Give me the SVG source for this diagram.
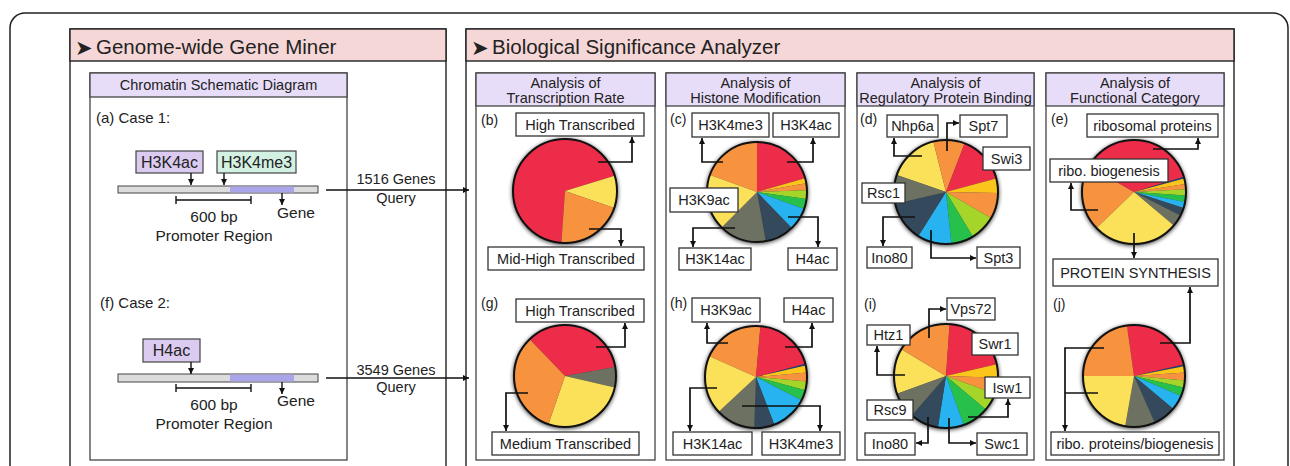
<svg xmlns="http://www.w3.org/2000/svg" width="1290" height="466" viewBox="0 0 1290 466">
<defs>
<marker id="ah" viewBox="0 0 8 8" refX="8" refY="4" markerWidth="6" markerHeight="6" orient="auto" markerUnits="userSpaceOnUse"><path d="M0,0 L8,4 L0,8 z" fill="#111"/></marker>
<filter id="sh" x="-20%" y="-20%" width="140%" height="140%"><feGaussianBlur stdDeviation="2.2"/></filter>
<style>
text{font-family:"Liberation Sans",Arial,sans-serif;fill:#222}
.t20{font-size:20.5px}
.t14{font-size:14.5px;text-anchor:middle}
.lab{font-size:14px}
.bx{font-size:14.5px;text-anchor:middle}
.box{fill:#fff;stroke:#333;stroke-width:1.3}
.pnl{fill:#fff;stroke:#222;stroke-width:1.4}
.sub{fill:#fff;stroke:#444;stroke-width:1.3}
.ph{fill:#f6d7d7;stroke:#222;stroke-width:1.4}
.sh{fill:#e8ddf9;stroke:#444;stroke-width:1.3}
.ld{fill:none;stroke:#111;stroke-width:1.7}
.arr{fill:none;stroke:#111;stroke-width:1.4}
.shadow{fill:#000;opacity:0.75;filter:url(#sh)}
.rim{fill:none;stroke:#111;stroke-width:2}
.r{fill:#ec2c48}.o{fill:#f7923f}.y{fill:#fbe05a}.g{fill:#6c7161}.d{fill:#34495c}.b{fill:#27b3ef}.gr{fill:#27c04a}.lg{fill:#a6d52a}.yo{fill:#fbc61b}.n{fill:#283e78}
.ico{font-family:"DejaVu Sans",sans-serif;font-size:21px}
</style>
</defs>
<rect width="1290" height="466" fill="#fff"/>
<rect x="10" y="13" width="1278" height="480" rx="15" fill="none" stroke="#222" stroke-width="1.5"/>

<g id="gene-miner">
<rect class="pnl" x="70" y="29" width="376" height="460"/>
<rect class="ph" x="70" y="29" width="376" height="32"/>
<text class="ico" x="75" y="55">➤</text>
<text class="t20" x="96" y="54">Genome-wide Gene Miner</text>
</g>

<g id="chromatin">
<rect class="sub" x="90" y="73" width="257" height="387"/>
<rect class="sh" x="90" y="73" width="257" height="24"/>
<text class="t14" x="218.5" y="90">Chromatin Schematic Diagram</text>
<text x="96" y="123" style="font-size:15px">(a) Case 1:</text>
<rect x="136" y="151" width="67" height="22" fill="#dccbf0" stroke="#444" stroke-width="1.2"/>
<text x="169.5" y="168" style="font-size:16px;text-anchor:middle">H3K4ac</text>
<rect x="217" y="151" width="79" height="22" fill="#d3f1e3" stroke="#444" stroke-width="1.2"/>
<text x="256.5" y="168" style="font-size:16px;text-anchor:middle">H3K4me3</text>
<rect x="118" y="186" width="200" height="7" fill="#dcdcdc" stroke="#444" stroke-width="1"/>
<rect x="230" y="186.5" width="64" height="6" fill="#aaa4e8"/>
<path class="arr" d="M176,196 V204 M251,196 V204 M176,200 H251"/>
<text x="214" y="222" style="font-size:15.5px;text-anchor:middle">600 bp</text>
<text x="296" y="218" style="font-size:15.5px;text-anchor:middle">Gene</text>
<text x="214" y="241" style="font-size:15.5px;text-anchor:middle">Promoter Region</text>
<text x="100" y="308" style="font-size:15px">(f) Case 2:</text>
<rect x="143" y="339" width="57" height="23" fill="#dccbf0" stroke="#444" stroke-width="1.2"/>
<text x="171.5" y="356" style="font-size:16px;text-anchor:middle">H4ac</text>
<rect x="118" y="374" width="200" height="8" fill="#dcdcdc" stroke="#444" stroke-width="1"/>
<rect x="230" y="374.5" width="64" height="7" fill="#aaa4e8"/>
<path class="arr" d="M176,384 V392 M251,384 V392 M176,388 H251"/>
<text x="214" y="410" style="font-size:15.5px;text-anchor:middle">600 bp</text>
<text x="296" y="406" style="font-size:15.5px;text-anchor:middle">Gene</text>
<text x="214" y="429" style="font-size:15.5px;text-anchor:middle">Promoter Region</text>
<text x="396" y="184" style="font-size:14.5px;text-anchor:middle">1516 Genes</text>
<text x="396" y="203" style="font-size:14.5px;text-anchor:middle">Query</text>
<text x="396" y="375" style="font-size:14.5px;text-anchor:middle">3549 Genes</text>
<text x="396" y="392" style="font-size:14.5px;text-anchor:middle">Query</text>
</g>

<g id="analyzer">
<rect class="pnl" x="466" y="29" width="768" height="460"/>
<rect class="ph" x="466" y="29" width="768" height="32"/>
<text class="ico" x="471" y="55">➤</text>
<text class="t20" x="492" y="54">Biological Significance Analyzer</text>
</g>

<g id="panel-transcription">
<rect class="sub" x="476" y="73" width="179" height="387"/>
<rect class="sh" x="476" y="73" width="179" height="33"/>
<text class="t14" x="565.5" y="88">Analysis of</text>
<text class="t14" x="565.5" y="103">Transcription Rate</text>
</g>
<g id="panel-histone">
<rect class="sub" x="666" y="73" width="179" height="387"/>
<rect class="sh" x="666" y="73" width="179" height="33"/>
<text class="t14" x="755.5" y="88">Analysis of</text>
<text class="t14" x="755.5" y="103">Histone Modification</text>
</g>
<g id="panel-regulatory">
<rect class="sub" x="857" y="73" width="177" height="387"/>
<rect class="sh" x="857" y="73" width="177" height="33"/>
<text class="t14" x="945.5" y="88">Analysis of</text>
<text class="t14" x="945.5" y="103">Regulatory Protein Binding</text>
</g>
<g id="panel-functional">
<rect class="sub" x="1046" y="73" width="178" height="387"/>
<rect class="sh" x="1046" y="73" width="178" height="33"/>
<text class="t14" x="1135" y="88">Analysis of</text>
<text class="t14" x="1135" y="103">Functional Category</text>
</g>

<g id="pie-b">
<text class="lab" x="481" y="125">(b)</text>
<circle class="shadow" cx="565" cy="192" r="53"/>
<path class="r" d="M565,191 L561.4,242.9 A52,52 0 1 1 614.7,175.8 Z"/>
<path class="y" d="M565,191 L614.7,175.8 A52,52 0 0 1 614.2,207.9 Z"/>
<path class="o" d="M565,191 L614.2,207.9 A52,52 0 0 1 561.4,242.9 Z"/>
<circle class="rim" cx="565" cy="191" r="52"/>
</g>
<g id="pie-g">
<text class="lab" x="481" y="308">(g)</text>
<circle class="shadow" cx="565" cy="377" r="52"/>
<path class="r" d="M565,376 L529.6,339.3 A51,51 0 0 1 615.2,367.1 Z"/>
<path class="g" d="M565,376 L615.2,367.1 A51,51 0 0 1 614.7,387.5 Z"/>
<path class="y" d="M565,376 L614.7,387.5 A51,51 0 0 1 548.4,424.2 Z"/>
<path class="o" d="M565,376 L548.4,424.2 A51,51 0 0 1 529.6,339.3 Z"/>
<circle class="rim" cx="565" cy="376" r="51"/>
</g>
<g id="pie-c">
<text class="lab" x="670" y="124">(c)</text>
<circle class="shadow" cx="757" cy="193" r="51"/>
<path class="o" d="M757,192 L710,174.9 A50,50 0 0 1 757,142 Z"/>
<path class="r" d="M757,192 L757,142 A50,50 0 0 1 805.1,178.2 Z"/>
<path class="yo" d="M757,192 L805.1,178.2 A50,50 0 0 1 806.2,183.3 Z"/>
<path class="o" d="M757,192 L806.2,183.3 A50,50 0 0 1 807,190.3 Z"/>
<path class="lg" d="M757,192 L807,190.3 A50,50 0 0 1 806.5,199 Z"/>
<path class="gr" d="M757,192 L806.5,199 A50,50 0 0 1 804,209.1 Z"/>
<path class="b" d="M757,192 L804,209.1 A50,50 0 0 1 791.7,228 Z"/>
<path class="d" d="M757,192 L791.7,228 A50,50 0 0 1 765.7,241.2 Z"/>
<path class="g" d="M757,192 L765.7,241.2 A50,50 0 0 1 721.6,227.4 Z"/>
<path class="y" d="M757,192 L721.6,227.4 A50,50 0 0 1 710,174.9 Z"/>
<circle class="rim" cx="757" cy="192" r="50"/>
</g>
<g id="pie-h">
<text class="lab" x="670" y="308">(h)</text>
<circle class="shadow" cx="756" cy="378" r="52"/>
<path class="o" d="M756,377 L709.4,356.3 A51,51 0 0 1 760.4,326.2 Z"/>
<path class="r" d="M756,377 L760.4,326.2 A51,51 0 0 1 805.3,363.8 Z"/>
<path class="n" d="M756,377 L805.3,363.8 A51,51 0 0 1 805.7,365.5 Z"/>
<path class="yo" d="M756,377 L805.7,365.5 A51,51 0 0 1 806.8,372.6 Z"/>
<path class="o" d="M756,377 L806.8,372.6 A51,51 0 0 1 806.8,381.4 Z"/>
<path class="lg" d="M756,377 L806.8,381.4 A51,51 0 0 1 805.3,390.2 Z"/>
<path class="gr" d="M756,377 L805.3,390.2 A51,51 0 0 1 801.4,400.2 Z"/>
<path class="b" d="M756,377 L801.4,400.2 A51,51 0 0 1 774.3,424.6 Z"/>
<path class="d" d="M756,377 L774.3,424.6 A51,51 0 0 1 754.2,428 Z"/>
<path class="g" d="M756,377 L754.2,428 A51,51 0 0 1 718.7,411.8 Z"/>
<path class="y" d="M756,377 L718.7,411.8 A51,51 0 0 1 709.4,356.3 Z"/>
<circle class="rim" cx="756" cy="377" r="51"/>
</g>
<g id="pie-d">
<text class="lab" x="860" y="124">(d)</text>
<circle class="shadow" cx="946" cy="193" r="53"/>
<path class="y" d="M946,192 L896.8,175.1 A52,52 0 0 1 933.4,141.5 Z"/>
<path class="o" d="M946,192 L933.4,141.5 A52,52 0 0 1 964.6,143.5 Z"/>
<path class="r" d="M946,192 L964.6,143.5 A52,52 0 0 1 996.2,178.5 Z"/>
<path class="yo" d="M946,192 L996.2,178.5 A52,52 0 0 1 998,192.9 Z"/>
<path class="o" d="M946,192 L998,192.9 A52,52 0 0 1 991,218 Z"/>
<path class="lg" d="M946,192 L991,218 A52,52 0 0 1 972.8,236.6 Z"/>
<path class="gr" d="M946,192 L972.8,236.6 A52,52 0 0 1 951.4,243.7 Z"/>
<path class="b" d="M946,192 L951.4,243.7 A52,52 0 0 1 918.4,236.1 Z"/>
<path class="d" d="M946,192 L918.4,236.1 A52,52 0 0 1 895.3,203.7 Z"/>
<path class="g" d="M946,192 L895.3,203.7 A52,52 0 0 1 896.8,175.1 Z"/>
<circle class="rim" cx="946" cy="192" r="52"/>
</g>
<g id="pie-i">
<text class="lab" x="864" y="309">(i)</text>
<circle class="shadow" cx="946" cy="377" r="53"/>
<path class="y" d="M946,376 L897.1,393.8 A52,52 0 0 1 901.4,349.2 Z"/>
<path class="o" d="M946,376 L901.4,349.2 A52,52 0 0 1 949.6,324.1 Z"/>
<path class="r" d="M946,376 L949.6,324.1 A52,52 0 0 1 996.7,364.3 Z"/>
<path class="yo" d="M946,376 L996.7,364.3 A52,52 0 0 1 998,377.8 Z"/>
<path class="o" d="M946,376 L998,377.8 A52,52 0 0 1 994.9,393.8 Z"/>
<path class="lg" d="M946,376 L994.9,393.8 A52,52 0 0 1 985.8,409.4 Z"/>
<path class="gr" d="M946,376 L985.8,409.4 A52,52 0 0 1 963.8,424.9 Z"/>
<path class="b" d="M946,376 L963.8,424.9 A52,52 0 0 1 937.9,427.4 Z"/>
<path class="d" d="M946,376 L937.9,427.4 A52,52 0 0 1 911.9,415.2 Z"/>
<path class="g" d="M946,376 L911.9,415.2 A52,52 0 0 1 897.1,393.8 Z"/>
<circle class="rim" cx="946" cy="376" r="52"/>
</g>
<g id="pie-e">
<text class="lab" x="1051" y="124">(e)</text>
<circle class="shadow" cx="1134" cy="193" r="53"/>
<path class="o" d="M1134,192 L1096.6,228.1 A52,52 0 0 1 1089,166 Z"/>
<path class="r" d="M1134,192 L1089,166 A52,52 0 0 1 1183.7,176.8 Z"/>
<path class="n" d="M1134,192 L1183.7,176.8 A52,52 0 0 1 1184.2,178.5 Z"/>
<path class="yo" d="M1134,192 L1184.2,178.5 A52,52 0 0 1 1185.4,183.9 Z"/>
<path class="o" d="M1134,192 L1185.4,183.9 A52,52 0 0 1 1185.9,189.3 Z"/>
<path class="lg" d="M1134,192 L1185.9,189.3 A52,52 0 0 1 1185.9,195.6 Z"/>
<path class="gr" d="M1134,192 L1185.9,195.6 A52,52 0 0 1 1185,201.9 Z"/>
<path class="b" d="M1134,192 L1185,201.9 A52,52 0 0 1 1183.5,208.1 Z"/>
<path class="d" d="M1134,192 L1183.5,208.1 A52,52 0 0 1 1180.3,215.6 Z"/>
<path class="g" d="M1134,192 L1180.3,215.6 A52,52 0 0 1 1173.8,225.4 Z"/>
<path class="y" d="M1134,192 L1173.8,225.4 A52,52 0 0 1 1096.6,228.1 Z"/>
<circle class="rim" cx="1134" cy="192" r="52"/>
</g>
<g id="pie-j">
<text class="lab" x="1053" y="309">(j)</text>
<circle class="shadow" cx="1134" cy="377" r="52"/>
<path class="r" d="M1134,376 L1126.9,325.5 A51,51 0 0 1 1183.7,364.5 Z"/>
<path class="n" d="M1134,376 L1183.7,364.5 A51,51 0 0 1 1184.1,366.3 Z"/>
<path class="yo" d="M1134,376 L1184.1,366.3 A51,51 0 0 1 1184.9,372.4 Z"/>
<path class="o" d="M1134,376 L1184.9,372.4 A51,51 0 0 1 1184.8,380.4 Z"/>
<path class="lg" d="M1134,376 L1184.8,380.4 A51,51 0 0 1 1183.7,387.5 Z"/>
<path class="gr" d="M1134,376 L1183.7,387.5 A51,51 0 0 1 1180.9,395.9 Z"/>
<path class="b" d="M1134,376 L1180.9,395.9 A51,51 0 0 1 1173.1,408.8 Z"/>
<path class="d" d="M1134,376 L1173.1,408.8 A51,51 0 0 1 1154.7,422.6 Z"/>
<path class="g" d="M1134,376 L1154.7,422.6 A51,51 0 0 1 1125.1,426.2 Z"/>
<path class="y" d="M1134,376 L1125.1,426.2 A51,51 0 0 1 1083,376 Z"/>
<path class="o" d="M1134,376 L1083,376 A51,51 0 0 1 1126.9,325.5 Z"/>
<circle class="rim" cx="1134" cy="376" r="51"/>
</g>

<g id="connectors">
<path class="arr" d="M191,173 V185" marker-end="url(#ah)"/>
<path class="arr" d="M224,173 V185" marker-end="url(#ah)"/>
<path class="arr" d="M282,193 V205" marker-end="url(#ah)"/>
<path class="arr" d="M191,362 V374" marker-end="url(#ah)"/>
<path class="arr" d="M282,382 V394" marker-end="url(#ah)"/>
<path class="arr" d="M326,190 H469" marker-end="url(#ah)"/>
<path class="arr" d="M326,378 H469" marker-end="url(#ah)"/>
<path class="ld" d="M598,162 H632 V137" marker-end="url(#ah)"/>
<path class="ld" d="M589,229 H621 V246" marker-end="url(#ah)"/>
<path class="ld" d="M596,347 H625 V323" marker-end="url(#ah)"/>
<path class="ld" d="M528,393 H506 V431" marker-end="url(#ah)"/>
<path class="ld" d="M723,162 H702 V138" marker-end="url(#ah)"/>
<path class="ld" d="M787,162 H813 V138" marker-end="url(#ah)"/>
<path class="ld" d="M735,228 H693 V247" marker-end="url(#ah)"/>
<path class="ld" d="M788,217 H818 V247" marker-end="url(#ah)"/>
<path class="ld" d="M728,343 H707 V323" marker-end="url(#ah)"/>
<path class="ld" d="M785,347 H812 V323" marker-end="url(#ah)"/>
<path class="ld" d="M717,388 H690 V431" marker-end="url(#ah)"/>
<path class="ld" d="M742,406 H820 V431" marker-end="url(#ah)"/>
<path class="ld" d="M922,156 H894 V138" marker-end="url(#ah)"/>
<path class="ld" d="M947,151 V123 H959" marker-end="url(#ah)"/>
<path class="ld" d="M915,217 H883 V246" marker-end="url(#ah)"/>
<path class="ld" d="M931,230 V258 H976" marker-end="url(#ah)"/>
<path class="ld" d="M929,338 V309 H946" marker-end="url(#ah)"/>
<path class="ld" d="M905,375 H877 V346" marker-end="url(#ah)"/>
<path class="ld" d="M968,417 H1008 V399" marker-end="url(#ah)"/>
<path class="ld" d="M928,417 V443 H916" marker-end="url(#ah)"/>
<path class="ld" d="M949,418 V443 H976" marker-end="url(#ah)"/>
<path class="ld" d="M1153,149 H1198 V138" marker-end="url(#ah)"/>
<path class="ld" d="M1098,210 H1071 V183" marker-end="url(#ah)"/>
<path class="ld" d="M1134,233 V258" marker-end="url(#ah)"/>
<path class="ld" d="M1160,343 H1190 V287" marker-end="url(#ah)"/>
<path class="ld" d="M1104,348 H1065 V431" marker-end="url(#ah)"/>
<path class="ld" d="M1098,393 H1065"/>
</g>

<g id="labels-b"><rect class="box" x="516" y="113" width="128" height="23"/><text class="bx" x="580" y="130">High Transcribed</text>
<rect class="box" x="488" y="247" width="156" height="23"/><text class="bx" x="566" y="264">Mid-High Transcribed</text></g>
<g id="labels-g"><rect class="box" x="516" y="299" width="128" height="23"/><text class="bx" x="580" y="316">High Transcribed</text>
<rect class="box" x="492" y="432" width="147" height="23"/><text class="bx" x="565.5" y="449">Medium Transcribed</text></g>
<g id="labels-c"><rect class="box" x="692" y="113" width="77" height="24"/><text class="bx" x="730.5" y="130">H3K4me3</text>
<rect class="box" x="773" y="113" width="66" height="24"/><text class="bx" x="806" y="130">H3K4ac</text>
<rect class="box" x="670" y="188" width="68" height="24"/><text class="bx" x="704" y="205">H3K9ac</text>
<rect class="box" x="679" y="248" width="72" height="22"/><text class="bx" x="715" y="264">H3K14ac</text>
<rect class="box" x="788" y="248" width="49" height="22"/><text class="bx" x="812.5" y="264">H4ac</text></g>
<g id="labels-h"><rect class="box" x="692" y="298" width="68" height="24"/><text class="bx" x="726" y="315">H3K9ac</text>
<rect class="box" x="784" y="298" width="49" height="24"/><text class="bx" x="808.5" y="315">H4ac</text>
<rect class="box" x="673" y="432" width="79" height="23"/><text class="bx" x="712.5" y="449">H3K14ac</text>
<rect class="box" x="762" y="432" width="78" height="23"/><text class="bx" x="801" y="449">H3K4me3</text></g>
<g id="labels-d"><rect class="box" x="887" y="115" width="51" height="22"/><text class="bx" x="912.5" y="131">Nhp6a</text>
<rect class="box" x="960" y="115" width="47" height="22"/><text class="bx" x="983.5" y="131">Spt7</text>
<rect class="box" x="983" y="147" width="47" height="23"/><text class="bx" x="1006.5" y="164">Swi3</text>
<rect class="box" x="862" y="183" width="43" height="20"/><text class="bx" x="883.5" y="198">Rsc1</text>
<rect class="box" x="867" y="247" width="45" height="21"/><text class="bx" x="889.5" y="263">Ino80</text>
<rect class="box" x="977" y="247" width="43" height="21"/><text class="bx" x="998.5" y="263">Spt3</text></g>
<g id="labels-i"><rect class="box" x="947" y="298" width="48" height="22"/><text class="bx" x="971" y="314">Vps72</text>
<rect class="box" x="867" y="325" width="43" height="20"/><text class="bx" x="888.5" y="340">Htz1</text>
<rect class="box" x="972" y="333" width="46" height="22"/><text class="bx" x="995" y="349">Swr1</text>
<rect class="box" x="985" y="377" width="45" height="21"/><text class="bx" x="1007.5" y="393">Isw1</text>
<rect class="box" x="867" y="400" width="46" height="20"/><text class="bx" x="890" y="415">Rsc9</text>
<rect class="box" x="865" y="433" width="50" height="22"/><text class="bx" x="890" y="449">Ino80</text>
<rect class="box" x="977" y="433" width="50" height="22"/><text class="bx" x="1002" y="449">Swc1</text></g>
<g id="labels-e"><rect class="box" x="1087" y="114" width="131" height="23"/><text class="bx" x="1152.5" y="131">ribosomal proteins</text>
<rect class="box" x="1050" y="159" width="118" height="23"/><text class="bx" x="1109" y="176">ribo. biogenesis</text></g>
<g id="protein-synthesis"><rect class="box" x="1053" y="259" width="165" height="27"/><text class="bx" x="1135.5" y="278">PROTEIN SYNTHESIS</text></g>
<g id="labels-j"><rect class="box" x="1051" y="432" width="168" height="23"/><text class="bx" x="1135" y="449">ribo. proteins/biogenesis</text></g>
</svg>
